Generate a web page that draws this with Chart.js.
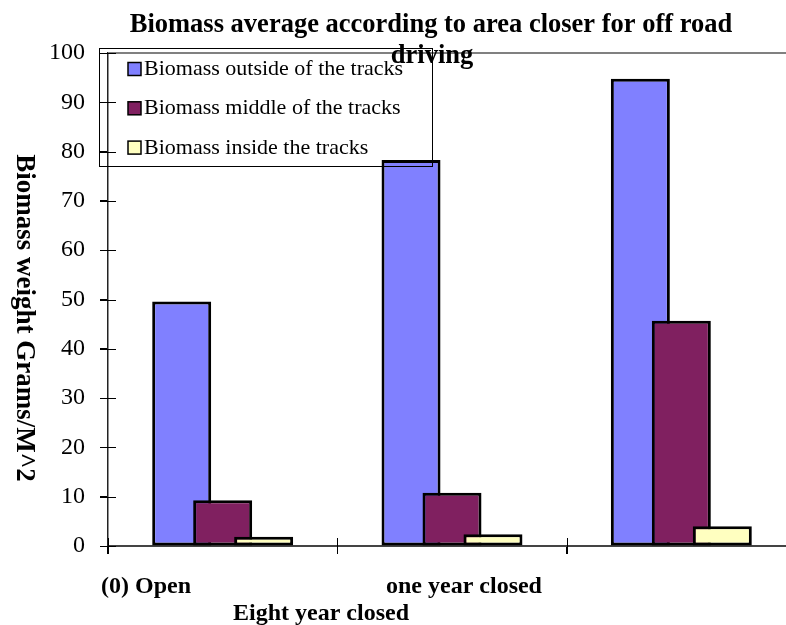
<!DOCTYPE html>
<html><head><meta charset="utf-8">
<script src="https://cdn.jsdelivr.net/npm/chart.js@4/dist/chart.umd.min.js"></script>
<style>html,body{margin:0;padding:0;overflow:hidden;background:#fff;width:786px;height:625px}
#wrap{position:relative;width:800px;height:625px}</style></head>
<body><div id="wrap"><canvas id="c" width="800" height="625"></canvas></div>
<script>
const categories = ["(0) Open", "one year closed", "Eight year closed"];
const seriesNames = ["Biomass outside of the tracks", "Biomass middle of the tracks", "Biomass inside the tracks"];
const outsideValues = [49.6, 78.3, 94.8];
const middleValues = [9.3, 10.8, 45.7];
const insideValues = [1.9, 2.4, 4.0];
const yTickValues = [0, 10, 20, 30, 40, 50, 60, 70, 80, 90, 100];
const titleLines = ["Biomass average according to area closer for off road", "driving"];
const yAxisTitle = "Biomass weight Grams/M^2";

const colors = ["#8080FF", "#802060", "#FFFFC0"];
const serif = "'Liberation Serif', 'Times New Roman', serif";
// label placement (style only)
const xLabelPos = [{x: 101, y: 593}, {x: 386, y: 593}, {x: 233, y: 620}];

const deco = {
  id: 'deco',
  beforeDatasetsDraw(chart) {
    const ctx = chart.ctx, a = chart.chartArea;
    ctx.save();
    ctx.strokeStyle = '#808080'; ctx.lineWidth = 2;
    ctx.beginPath(); ctx.moveTo(a.left, a.top); ctx.lineTo(a.right, a.top); ctx.stroke();
    ctx.restore();
    // draw series in order so later series overlap earlier ones
    chart.data.datasets.forEach((d, i) => {
      const m = chart.getDatasetMeta(i);
      if (!m.hidden) m.controller.draw();
    });
    return false;
  },
  afterDraw(chart) {
    const ctx = chart.ctx, a = chart.chartArea;
    const xs = chart.scales.x, ys = chart.scales.y;
    ctx.save();
    ctx.strokeStyle = '#000'; ctx.lineWidth = 1;
    // crossing tick marks on y axis
    yTickValues.forEach(v => {
      const y = Math.round(ys.getPixelForValue(v)) + 0.5;
      ctx.beginPath(); ctx.moveTo(a.left - 8, y); ctx.lineTo(a.left + 8, y); ctx.stroke();
    });
    // crossing tick marks on x axis at category boundaries
    const step = xs.getPixelForValue(1) - xs.getPixelForValue(0);
    for (let i = 0; i <= categories.length; i++) {
      const x = Math.round(xs.getPixelForValue(i) - step / 2) + 0.5;
      ctx.beginPath(); ctx.moveTo(x, a.bottom - 8); ctx.lineTo(x, a.bottom + 8); ctx.stroke();
    }
    // title
    ctx.fillStyle = '#000';
    ctx.font = 'bold 26.5px ' + serif;
    ctx.textAlign = 'center'; ctx.textBaseline = 'alphabetic';
    ctx.fillText(titleLines[0], 431, 32);
    ctx.fillText(titleLines[1], 432, 63);
    // y axis title
    ctx.save();
    ctx.translate(24, 318); ctx.rotate(Math.PI / 2);
    ctx.textBaseline = 'middle';
    ctx.font = 'bold 27px ' + serif;
    ctx.fillText(yAxisTitle, 0, 0);
    ctx.restore();
    // x labels
    ctx.font = 'bold 24px ' + serif;
    ctx.textAlign = 'left'; ctx.textBaseline = 'alphabetic';
    categories.forEach((c, i) => ctx.fillText(c, xLabelPos[i].x, xLabelPos[i].y));
    // legend
    const lx = a.left - 9.5, ly = a.top - 5;
    ctx.lineWidth = 1; ctx.strokeStyle = '#000';
    ctx.strokeRect(Math.round(lx) + 0.5, Math.round(ly) + 0.5, 333, 118);
    ctx.font = '22px ' + serif;
    chart.data.datasets.forEach((d, i) => {
      const base = ly + 27 + i * 39.3;
      const cy = base - 6;
      ctx.fillStyle = d.backgroundColor;
      ctx.fillRect(lx + 29.5, cy - 6.5, 13, 13);
      ctx.lineWidth = 1.5; ctx.strokeStyle = '#000';
      ctx.strokeRect(lx + 29.5, cy - 6.5, 13, 13);
      ctx.fillStyle = '#000';
      ctx.fillText(d.label, lx + 45.5, base);
    });
    ctx.restore();
  }
};

const ds = (label, data, color) => ({
  label, data, backgroundColor: color, borderColor: '#000', borderWidth: 3,
  borderSkipped: false, barPercentage: 1.44, categoryPercentage: 0.536
});

new Chart(document.getElementById('c'), {
  type: 'bar',
  data: {
    labels: categories,
    datasets: [
      ds(seriesNames[0], outsideValues, colors[0]),
      ds(seriesNames[1], middleValues, colors[1]),
      ds(seriesNames[2], insideValues, colors[2])
    ]
  },
  options: {
    responsive: false, animation: false, devicePixelRatio: 1,
    layout: {padding: {top: 53, right: 4, bottom: 0, left: 0}},
    plugins: {legend: {display: false}, title: {display: false}, tooltip: {enabled: false}},
    scales: {
      x: {
        type: 'category', offset: true,
        grid: {display: true, drawOnChartArea: false, drawTicks: true, tickLength: 8, color: '#000', offset: true},
        border: {display: true, color: '#444', width: 2},
        ticks: {display: false},
        afterFit(s) { s.height = 79; }
      },
      y: {
        min: 0, max: 100,
        grid: {display: true, drawOnChartArea: false, drawTicks: true, tickLength: 8, color: '#000'},
        border: {display: true, color: '#222', width: 1.5},
        ticks: {stepSize: 10, color: '#000', padding: 15, font: {family: serif, size: 24}},
        afterFit(s) { s.width = 108; }
      }
    }
  },
  plugins: [deco]
});
</script>
</body></html>
